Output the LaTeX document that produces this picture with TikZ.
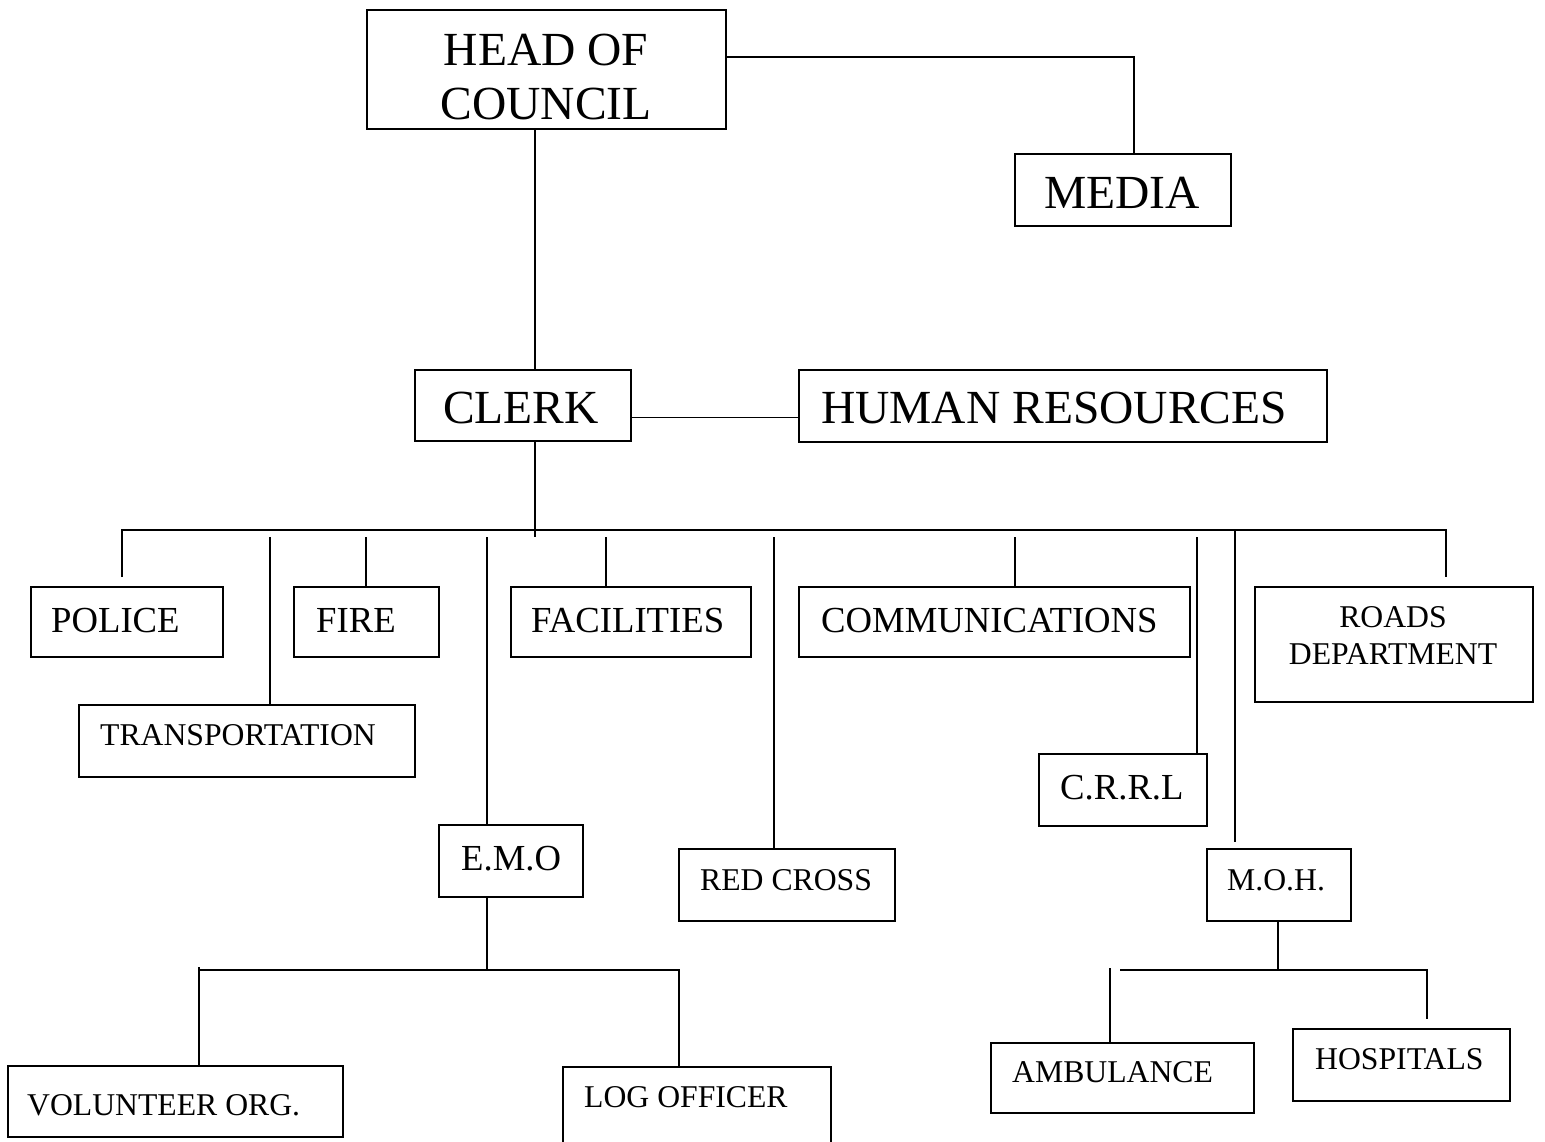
\documentclass[tikz,border=0pt]{standalone}
\usepackage{fontspec}
\setmainfont{Liberation Serif}
\begin{document}
\begin{tikzpicture}[x=1pt,y=-1pt,
  box/.style={draw, line width=2pt, rectangle, inner sep=0pt, outer sep=0pt},
  conn/.style={line width=1.8pt},
  bigt/.style={inner sep=0pt, font=\fontsize{47.5pt}{54pt}\selectfont},
  midt/.style={inner sep=0pt, font=\fontsize{36.7pt}{40pt}\selectfont},
  smlt/.style={inner sep=0pt, font=\fontsize{31.7pt}{37pt}\selectfont}]
\useasboundingbox[fill=white] (0,0) rectangle (1545,1141);
% boxes
\node[box, minimum width=359pt, minimum height=119pt] (head) at (546.5,69.5) {};
\node[box, minimum width=216pt, minimum height=72pt] (media) at (1123,190) {};
\node[box, minimum width=216pt, minimum height=71pt] (clerk) at (523,405.5) {};
\node[box, minimum width=528pt, minimum height=72pt] (hr) at (1063,406) {};
\node[box, minimum width=192pt, minimum height=70pt] (police) at (127,622) {};
\node[box, minimum width=336pt, minimum height=72pt] (trans) at (247,741) {};
\node[box, minimum width=145pt, minimum height=70pt] (fire) at (366.5,622) {};
\node[box, minimum width=240pt, minimum height=70pt] (fac) at (631,622) {};
\node[box, minimum width=391pt, minimum height=70pt] (comm) at (994.5,622) {};
\node[box, minimum width=278pt, minimum height=115pt] (roads) at (1394,644.5) {};
\node[box, minimum width=144pt, minimum height=72pt] (emo) at (511,861) {};
\node[box, minimum width=216pt, minimum height=72pt] (rc) at (787,885) {};
\node[box, minimum width=168pt, minimum height=72pt] (crrl) at (1123,790) {};
\node[box, minimum width=144pt, minimum height=72pt] (moh) at (1279,885) {};
\node[box, minimum width=335pt, minimum height=71pt] (vol) at (175.5,1101.5) {};
\node[box, minimum width=268pt, minimum height=78pt] (log) at (697,1106) {};
\node[box, minimum width=263pt, minimum height=70pt] (amb) at (1122.5,1078) {};
\node[box, minimum width=217pt, minimum height=72pt] (hosp) at (1401.5,1065) {};
% texts
\node[bigt, anchor=base] (head-t1) at (546,65) {HEAD OF};
\node[bigt, anchor=base] (head-t2) at (546,119) {COUNCIL};
\node[bigt, anchor=base] (media-t) at (1122,208) {MEDIA};
\node[bigt, anchor=base] (clerk-t) at (521,423) {CLERK};
\node[bigt, anchor=base] (hr-t) at (1054,423) {HUMAN RESOURCES};
\node[midt, anchor=base west] (police-t) at (51,632) {POLICE};
\node[midt, anchor=base west] (fire-t) at (316,632) {FIRE};
\node[midt, anchor=base west] (fac-t) at (531,632) {FACILITIES};
\node[midt, anchor=base west] (comm-t) at (821,632) {COMMUNICATIONS};
\node[smlt, anchor=base] (roads-t1) at (1393,627) {ROADS};
\node[smlt, anchor=base] (roads-t2) at (1393,664) {DEPARTMENT};
\node[smlt, anchor=base west] (trans-t) at (100,745) {TRANSPORTATION};
\node[midt, anchor=base west] (emo-t) at (461,870) {E.M.O};
\node[smlt, anchor=base west] (rc-t) at (700,890) {RED CROSS};
\node[midt, anchor=base west] (crrl-t) at (1060,799) {C.R.R.L};
\node[smlt, anchor=base west] (moh-t) at (1227,890) {M.O.H.};
\node[smlt, anchor=base west] (vol-t) at (27,1115) {VOLUNTEER ORG.};
\node[smlt, anchor=base west] (log-t) at (584,1107) {LOG OFFICER};
\node[smlt, anchor=base west] (amb-t) at (1012,1082) {AMBULANCE};
\node[smlt, anchor=base west] (hosp-t) at (1315,1069) {HOSPITALS};
% coordinates
\coordinate (hm) at (1134,57);
\coordinate (cx) at (535,537);
\coordinate (busL) at (122,530);
\coordinate (busR) at (1446,530);
\coordinate (dT) at (270,537);
\coordinate (dF) at (366,537);
\coordinate (dE) at (487,537);
\coordinate (dFa) at (606,537);
\coordinate (dR) at (774,537);
\coordinate (dC) at (1015,537);
\coordinate (dCr) at (1197,537);
\coordinate (dM) at (1235,530);
\coordinate (eJ) at (487,970);
\coordinate (eL) at (199,970);
\coordinate (eR) at (679,970);
\coordinate (mJ) at (1278,970);
\coordinate (mL) at (1120,970);
\coordinate (mR) at (1427,970);
\coordinate (aT) at (1110,968);
% connectors
\draw[conn] (head.east |- hm) -- (hm) -- (media.north -| hm);
\draw[conn] (head.south -| cx) -- (clerk.north -| cx);
\draw[conn] (clerk.south -| cx) -- (cx);
\draw[conn] ([yshift=-12pt]clerk.east) -- ([yshift=-12pt]clerk.east -| hr.west);
\draw[conn] ([yshift=10pt]police.north -| busL) -- (busL) -- (busR) -- ([yshift=10pt]roads.north -| busR);
\draw[conn] (dT) -- (trans.north -| dT);
\draw[conn] (dF) -- (fire.north -| dF);
\draw[conn] (dE) -- (emo.north -| dE);
\draw[conn] (dFa) -- (fac.north -| dFa);
\draw[conn] (dR) -- (rc.north -| dR);
\draw[conn] (dC) -- (comm.north -| dC);
\draw[conn] (dCr) -- (crrl.north -| dCr);
\draw[conn] (dM) -- ([yshift=7pt]moh.north -| dM);
\draw[conn] (emo.south -| eJ) -- (eJ);
\draw[conn] (vol.north -| eL) -- ([yshift=3pt]eL) -- (eL) -- (eR) -- (log.north -| eR);
\draw[conn] (moh.south -| mJ) -- (mJ);
\draw[conn] (mL) -- (mR) -- ([yshift=10pt]hosp.north -| mR);
\draw[conn] (aT) -- (amb.north -| aT);
\end{tikzpicture}
\end{document}
